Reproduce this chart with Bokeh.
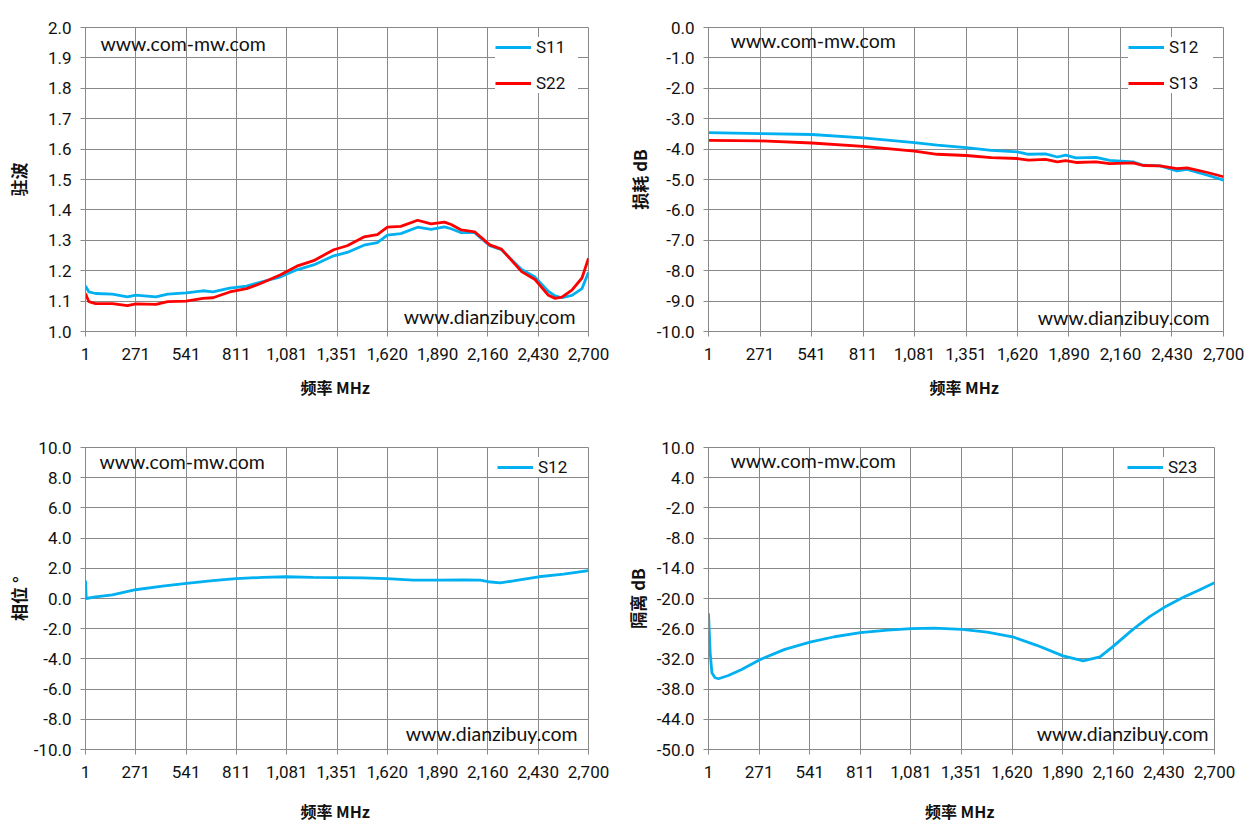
from bokeh.plotting import figure
from bokeh.models import Range1d, FixedTicker, Label, Legend, LegendItem, PrintfTickFormatter
from bokeh.layouts import column, row
from bokeh.embed import file_html
from bokeh.resources import INLINE

# ---------------- data ----------------
X_TICKS = [1, 271, 541, 811, 1081, 1351, 1620, 1890, 2160, 2430, 2700]
X_TICK_LABELS = ["1", "271", "541", "811", "1,081", "1,351", "1,620", "1,890", "2,160", "2,430", "2,700"]

TL_FREQ = [1, 19, 55, 145, 226, 271, 379, 442, 541, 631, 685, 775, 865, 937, 1045, 1135, 1225, 1333,
           1405, 1495, 1567, 1621, 1693, 1783, 1855, 1927, 1963, 2017, 2089, 2170, 2233, 2341, 2413,
           2485, 2521, 2557, 2611, 2665, 2700]
S11 = [1.15, 1.13, 1.125, 1.123, 1.114, 1.12, 1.114, 1.123, 1.127, 1.134, 1.130, 1.143, 1.149, 1.162,
       1.179, 1.203, 1.219, 1.249, 1.26, 1.284, 1.292, 1.317, 1.322, 1.343, 1.336, 1.344, 1.338, 1.325,
       1.325, 1.282, 1.269, 1.204, 1.179, 1.132, 1.117, 1.111, 1.119, 1.141, 1.195]
S22 = [1.125, 1.098, 1.092, 1.092, 1.085, 1.091, 1.089, 1.098, 1.10, 1.109, 1.111, 1.130, 1.141, 1.157,
       1.186, 1.215, 1.233, 1.269, 1.282, 1.311, 1.319, 1.343, 1.346, 1.366, 1.354, 1.36, 1.352, 1.334,
       1.328, 1.285, 1.271, 1.197, 1.171, 1.119, 1.109, 1.113, 1.136, 1.176, 1.241]

TR_FREQ = [1, 272, 542, 811, 1080, 1200, 1351, 1483, 1620, 1678, 1767, 1829, 1873, 1926, 2032, 2103,
           2226, 2279, 2368, 2456, 2509, 2616, 2700]
S12_LOSS = [-3.46, -3.49, -3.52, -3.63, -3.79, -3.87, -3.95, -4.04, -4.09, -4.17, -4.16, -4.26, -4.20,
            -4.29, -4.27, -4.37, -4.42, -4.53, -4.55, -4.72, -4.67, -4.86, -5.02]
S13_LOSS = [-3.71, -3.73, -3.80, -3.91, -4.07, -4.17, -4.21, -4.28, -4.31, -4.36, -4.34, -4.42, -4.38,
            -4.44, -4.42, -4.48, -4.45, -4.54, -4.55, -4.64, -4.62, -4.77, -4.91]

BL_FREQ = [1, 5, 55, 145, 270, 414, 543, 683, 808, 952, 1077, 1221, 1352, 1490, 1619, 1759, 1888, 2028,
           2118, 2163, 2226, 2297, 2432, 2566, 2700]
S12_PHASE = [1.18, 0.0, 0.11, 0.24, 0.58, 0.82, 1.0, 1.18, 1.31, 1.40, 1.44, 1.40, 1.38, 1.36, 1.31,
             1.22, 1.22, 1.24, 1.22, 1.11, 1.04, 1.16, 1.44, 1.62, 1.84]

BR_FREQ = [1, 10, 19, 36, 54, 107, 178, 272, 408, 542, 673, 811, 956, 1082, 1204, 1353, 1487, 1623,
           1752, 1892, 2000, 2089, 2161, 2265, 2354, 2430, 2531, 2619, 2700]
S23_ISO = [-22.95, -30.8, -34.75, -35.75, -35.95, -35.3, -34.1, -32.2, -30.1, -28.65, -27.6, -26.8,
           -26.27, -26.0, -25.87, -26.13, -26.66, -27.6, -29.3, -31.4, -32.4, -31.6, -29.45, -26.13,
           -23.6, -21.8, -19.8, -18.3, -16.85]

TL_YTICKS = [1.0, 1.1, 1.2, 1.3, 1.4, 1.5, 1.6, 1.7, 1.8, 1.9, 2.0]
TR_YTICKS = [0.0, -1.0, -2.0, -3.0, -4.0, -5.0, -6.0, -7.0, -8.0, -9.0, -10.0]
BL_YTICKS = [-10.0, -8.0, -6.0, -4.0, -2.0, 0.0, 2.0, 4.0, 6.0, 8.0, 10.0]
BR_YTICKS = [-50.0, -44.0, -38.0, -32.0, -26.0, -20.0, -14.0, -8.0, -2.0, 4.0, 10.0]

BLUE = "#00B0F0"
RED = "#FF0000"
GRID = "#898989"
TICK_FONT = "Roboto"
WM_FONT = "Lato"
CJK = "Noto Sans CJK SC"


def make(width, height, bl, br, bt, bb, yticks, ylabel, ystand, xstand):
    p = figure(width=width, height=height, output_backend="svg", toolbar_location=None,
               x_range=Range1d(1, 2700), y_range=Range1d(min(yticks), max(yticks)),
               min_border_left=bl, min_border_right=br, min_border_top=bt, min_border_bottom=bb)
    p.background_fill_color = "white"
    p.border_fill_color = "white"
    p.outline_line_color = GRID
    p.xaxis.ticker = FixedTicker(ticks=X_TICKS)
    p.xaxis.major_label_overrides = {t: l for t, l in zip(X_TICKS, X_TICK_LABELS)}
    p.yaxis.ticker = FixedTicker(ticks=yticks)
    p.yaxis.formatter = PrintfTickFormatter(format="%.1f")
    for ax in (p.xaxis[0], p.yaxis[0]):
        ax.axis_line_color = GRID
        ax.major_tick_line_color = GRID
        ax.major_tick_out = 5
        ax.major_tick_in = 0
        ax.minor_tick_line_color = None
        ax.major_label_text_font = TICK_FONT
        ax.major_label_text_font_size = "17px"
        ax.major_label_text_color = "#111111"
        ax.axis_label_text_font = CJK
        ax.axis_label_text_font_style = "bold"
        ax.axis_label_text_font_size = "16px"
        ax.axis_label_text_color = "#111111"
    p.xaxis.major_label_standoff = 11
    p.yaxis.major_label_standoff = 9
    p.xaxis.axis_label = "频率  MHz"
    p.xaxis.axis_label_standoff = xstand
    p.yaxis.axis_label = ylabel
    p.yaxis.axis_label_standoff = ystand
    p.yaxis.axis_label_text_font_size = "17px"
    p.xgrid.grid_line_color = GRID
    p.ygrid.grid_line_color = GRID
    p.xgrid.grid_line_width = 1
    p.ygrid.grid_line_width = 1
    return p


def add_legend(p, items, label_width):
    leg = Legend(items=items, location="top_right", margin=10)
    leg.background_fill_color = "white"
    leg.background_fill_alpha = 1.0
    leg.border_line_color = None
    leg.label_text_font = TICK_FONT
    leg.label_text_font_size = "17px"
    leg.label_text_color = "#111111"
    leg.glyph_width = 36
    leg.glyph_height = 18
    leg.label_height = 18
    leg.label_width = label_width
    leg.label_standoff = 5
    leg.spacing = 16
    leg.padding = 8
    p.add_layout(leg)


def add_marks(p, x1, y1, x2, y2):
    p.add_layout(Label(x=x1, y=y1, text="www.com-mw.com", text_font=WM_FONT, text_font_size="19.5px",
                       text_baseline="middle", text_align="left", text_color="#111111"))
    p.add_layout(Label(x=x2, y=y2, text="www.dianzibuy.com", text_font=WM_FONT, text_font_size="19.5px",
                       text_baseline="middle", text_align="right", text_color="#111111"))


# top-left: VSWR
p1 = make(620, 420, 85, 32, 27, 89, TL_YTICKS, "驻波", 14, 12)
r11 = p1.line(TL_FREQ, S11, line_color=BLUE, line_width=2.8)
r22 = p1.line(TL_FREQ, S22, line_color=RED, line_width=2.8)
add_legend(p1, [LegendItem(label="S11", renderers=[r11]), LegendItem(label="S22", renderers=[r22])], 42)
add_marks(p1, 81, 1.947, 2630, 1.049)

# top-right: insertion loss
p2 = make(639, 420, 88, 36, 27, 89, TR_YTICKS, "损耗 dB", 2, 12)
r12 = p2.line(TR_FREQ, S12_LOSS, line_color=BLUE, line_width=2.8)
r13 = p2.line(TR_FREQ, S13_LOSS, line_color=RED, line_width=2.8)
add_legend(p2, [LegendItem(label="S12", renderers=[r12]), LegendItem(label="S13", renderers=[r13])], 44)
add_marks(p2, 116, -0.43, 2627, -9.54)

# bottom-left: phase
p3 = make(620, 419, 85, 32, 27, 90, BL_YTICKS, "相位 °", 0, 18)
rp = p3.line(BL_FREQ, S12_PHASE, line_color=BLUE, line_width=2.8)
add_legend(p3, [LegendItem(label="S12", renderers=[rp])], 40)
add_marks(p3, 76, 9.07, 2641, -8.94)

# bottom-right: isolation
p4 = make(630, 419, 88, 36, 27, 90, BR_YTICKS, "隔离 dB", 4, 18)
ri = p4.line(BR_FREQ, S23_ISO, line_color=BLUE, line_width=2.8)
add_legend(p4, [LegendItem(label="S23", renderers=[ri])], 36)
add_marks(p4, 118, 7.42, 2668, -46.8)

layout = column(row(p1, p2), row(p3, p4))
open("out.html", "w").write(file_html(layout, INLINE))
